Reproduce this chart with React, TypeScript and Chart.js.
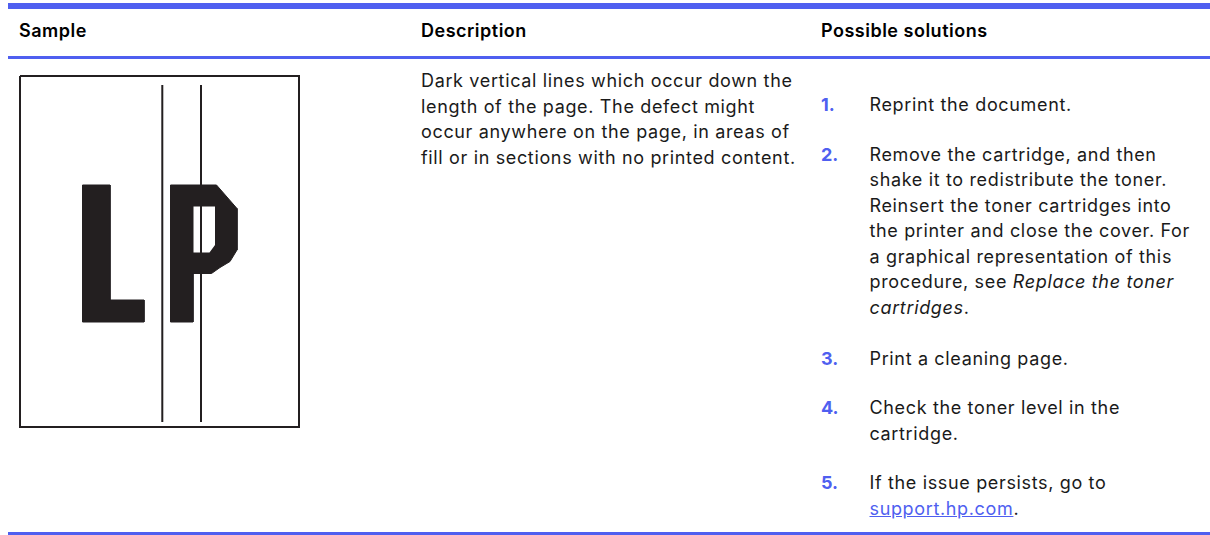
import React, { useEffect, useRef } from "react";
import { Chart, registerables } from "chart.js";

Chart.register(...registerables);

// ---- Text content ----
const HEADERS = ["Sample", "Description", "Possible solutions"];

const DESCRIPTION_LINES = [
  "Dark vertical lines which occur down the",
  "length of the page. The defect might",
  "occur anywhere on the page, in areas of",
  "fill or in sections with no printed content.",
];

type Seg = { t: string; s?: "i" | "a" };

const SOLUTION_NUMBERS = ["1.", "2.", "3.", "4.", "5."];

const SOLUTION_LINES: Seg[][][] = [
  [[{ t: "Reprint the document." }]],
  [
    [{ t: "Remove the cartridge, and then" }],
    [{ t: "shake it to redistribute the toner." }],
    [{ t: "Reinsert the toner cartridges into" }],
    [{ t: "the printer and close the cover. For" }],
    [{ t: "a graphical representation of this" }],
    [{ t: "procedure, see " }, { t: "Replace the toner", s: "i" }],
    [{ t: "cartridges", s: "i" }, { t: "." }],
  ],
  [[{ t: "Print a cleaning page." }]],
  [[{ t: "Check the toner level in the" }], [{ t: "cartridge." }]],
  [[{ t: "If the issue persists, go to" }], [{ t: "support.hp.com", s: "a" }, { t: "." }]],
];

// ---- Sample picture (page-pixel data units) ----
const FRAME: [number, number][] = [
  [20, 76], [299, 76], [299, 427], [20, 427], [20, 76],
];
const LINE_1: [number, number][] = [[162.3, 85], [162.3, 422]];
const LINE_2: [number, number][] = [[201, 85], [201, 422]];
const LETTER_L: [number, number][] = [
  [82.5, 185], [110, 185], [110, 300], [144, 300], [144, 322], [82.5, 322], [82.5, 185],
];
const LETTER_P: [number, number][] = [
  [170.5, 185], [216.5, 185], [237, 208.5], [237, 250], [230, 261.5], [220, 267.5],
  [211.5, 273.5], [193, 273.5], [193, 322], [170.5, 322], [170.5, 185],
];
const P_COUNTER: [number, number][] = [
  [193.5, 206.5], [215, 206.5], [215, 245], [209.5, 252.5], [193.5, 252.5], [193.5, 206.5],
];

const BLUE = "#4f5ff0";
const INK = "#231f20";
const TEXT = "#1a1a1a";
const FONT = "Inter, 'Noto Sans', sans-serif";
const FS = 18;
const LH = 25.5;
const LS = "0.65px";

function SamplePicture() {
  const ref = useRef<HTMLCanvasElement | null>(null);
  useEffect(() => {
    if (!ref.current) return;
    const ds = (pts: [number, number][], opts: any) => ({
      data: pts.map(([x, y]) => ({ x, y })),
      pointRadius: 0,
      tension: 0,
      ...opts,
    });
    const chart = new Chart(ref.current, {
      type: "line",
      data: {
        datasets: [
          ds(LINE_2, { borderColor: INK, borderWidth: 2, fill: false, order: 0 }),
          ds(LINE_1, { borderColor: INK, borderWidth: 2, fill: false, order: 0 }),
          ds(P_COUNTER, { borderColor: "#ffffff", backgroundColor: "#ffffff", borderWidth: 0, fill: "shape", order: 1 }),
          ds(LETTER_P, { borderColor: INK, backgroundColor: INK, borderWidth: 1, fill: "shape", order: 2 }),
          ds(LETTER_L, { borderColor: INK, backgroundColor: INK, borderWidth: 1, fill: "shape", order: 2 }),
          ds(FRAME, { borderColor: INK, borderWidth: 2, fill: false, order: 3 }),
        ],
      },
      options: {
        animation: false,
        responsive: false,
        events: [],
        layout: { padding: 0 },
        scales: {
          x: { type: "linear", min: 10, max: 310, display: false },
          y: { type: "linear", min: 68, max: 438, reverse: true, display: false },
        },
        plugins: { legend: { display: false }, tooltip: { enabled: false } },
      },
    } as any);
    return () => chart.destroy();
  }, []);
  return (
    <canvas
      ref={ref}
      width={300}
      height={370}
      style={{ position: "absolute", left: 10, top: 68, width: 300, height: 370 }}
    />
  );
}

function Line({ segs }: { segs: Seg[] }) {
  return (
    <div style={{ whiteSpace: "nowrap", height: LH }}>
      {segs.map((s, i) =>
        s.s === "i" ? (
          <i key={i}>{s.t}</i>
        ) : s.s === "a" ? (
          <span key={i} style={{ color: BLUE, textDecoration: "underline" }}>{s.t}</span>
        ) : (
          <span key={i}>{s.t}</span>
        )
      )}
    </div>
  );
}

const HEADER_LEFT = [19, 421, 821];
const ITEM_TOPS = [92, 141.5, 345.5, 395, 470];

export default function App() {
  return (
    <div
      style={{
        position: "absolute",
        left: 0,
        top: 0,
        width: 1210,
        height: 535,
        overflow: "hidden",
        background: "#fff",
        fontFamily: FONT,
        fontSize: FS,
        lineHeight: `${LH}px`,
        letterSpacing: LS,
        color: TEXT,
      }}
    >
      <div style={{ position: "absolute", left: 8, top: 3, width: 1202, height: 6, background: BLUE }} />
      <div style={{ position: "absolute", left: 8, top: 56, width: 1202, height: 3, background: BLUE }} />
      <div style={{ position: "absolute", left: 8, top: 532, width: 1202, height: 3, background: BLUE }} />

      {HEADERS.map((h, i) => (
        <div
          key={h}
          style={{
            position: "absolute",
            left: HEADER_LEFT[i],
            top: 17.5,
            fontWeight: 600,
            color: "#000",
            whiteSpace: "nowrap",
            letterSpacing: "0.5px",
          }}
        >
          {h}
        </div>
      ))}

      <SamplePicture />

      <div style={{ position: "absolute", left: 421, top: 68 }}>
        {DESCRIPTION_LINES.map((l, i) => (
          <Line key={i} segs={[{ t: l }]} />
        ))}
      </div>

      {SOLUTION_NUMBERS.map((n, i) => (
        <React.Fragment key={n}>
          <div style={{ position: "absolute", left: 821, top: ITEM_TOPS[i], color: BLUE, fontWeight: 700, letterSpacing: 0 }}>{n}</div>
          <div style={{ position: "absolute", left: 869.5, top: ITEM_TOPS[i] }}>
            {SOLUTION_LINES[i].map((segs, j) => (
              <Line key={j} segs={segs} />
            ))}
          </div>
        </React.Fragment>
      ))}
    </div>
  );
}
